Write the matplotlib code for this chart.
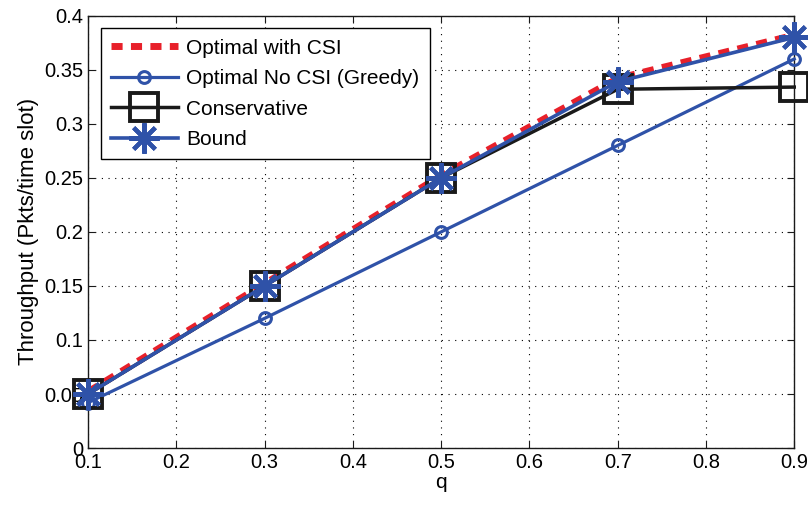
import numpy as np
import matplotlib.pyplot as plt
from matplotlib.lines import Line2D

plt.rcParams['font.family'] = ['Liberation Sans', 'DejaVu Sans']

q = [0.1, 0.3, 0.5, 0.7, 0.9]
optimal_csi = [0.052, 0.152, 0.252, 0.342, 0.382]
greedy = [0.042, 0.12, 0.2, 0.28, 0.36]
conservative = [0.05, 0.15, 0.25, 0.332, 0.334]
bound = [0.05, 0.15, 0.25, 0.339, 0.38]

red = '#e8202a'
blue = '#2f52a8'
star = (8, 2, 0)

fig = plt.figure(figsize=(8.08, 5.08), dpi=100)
ax = fig.add_axes([0.109, 0.118, 0.874, 0.851])

ax.plot(q, optimal_csi, color=red, lw=5, dashes=(1.6, 1.2), label='Optimal with CSI', zorder=3)
ax.plot(q, greedy, color=blue, lw=2.3, marker='o', ms=8.5, mfc='none', mew=2.2,
        label='Optimal No CSI (Greedy)', clip_on=False, zorder=4)
ax.plot(q, conservative, color='#1a1a1a', lw=2.5, marker='s', ms=20, mfc='none', mew=2.8,
        label='Conservative', clip_on=False, zorder=4)
ax.plot(q, bound, color=blue, lw=2.6, label='Bound', zorder=5)
ax.plot(q, bound, ls='none', color=blue, marker=star, ms=22, mew=3, clip_on=False, zorder=6)

ax.set_xlim(0.1, 0.9)
ax.set_ylim(0, 0.4)
ax.set_xticks(np.arange(0.1, 0.91, 0.1))
ax.set_xticklabels(['0.1', '0.2', '0.3', '0.4', '0.5', '0.6', '0.7', '0.8', '0.9'])
ax.set_yticks(np.arange(0, 0.401, 0.05))
ax.set_yticklabels(['0', '0.05', '0.1', '0.15', '0.2', '0.25', '0.3', '0.35', '0.4'])
ax.tick_params(direction='in', labelsize=14.5, length=5, top=True, right=True, color='#1a1a1a')
ax.grid(True, color='black', ls=(0, (1, 5)), lw=0.8)
for s in ax.spines.values():
    s.set_linewidth(1.0)
    s.set_color('#1a1a1a')
ax.set_xlabel('q', fontsize=15, labelpad=1)
ax.set_ylabel('Throughput (Pkts/time slot)', fontsize=16, labelpad=4)

handles = [
    Line2D([], [], color=red, lw=5, dashes=(1.6, 1.2)),
    Line2D([], [], color=blue, lw=2.3, marker='o', ms=8.5, mfc='none', mew=2.2),
    Line2D([], [], color='#1a1a1a', lw=2.5, marker='s', ms=20, mfc='none', mew=2.8),
    Line2D([], [], color=blue, lw=2.6, marker=star, ms=22, mew=3),
]
labels = ['Optimal with CSI', 'Optimal No CSI (Greedy)', 'Conservative', 'Bound']
leg = ax.legend(handles, labels, loc='upper left', fontsize=15, fancybox=False,
                edgecolor='black', framealpha=1, handlelength=3.2, borderaxespad=0.6,
                labelspacing=0.55, handletextpad=0.4, borderpad=0.5)
leg.get_frame().set_linewidth(1.0)

fig.savefig('out.png', dpi=100)
